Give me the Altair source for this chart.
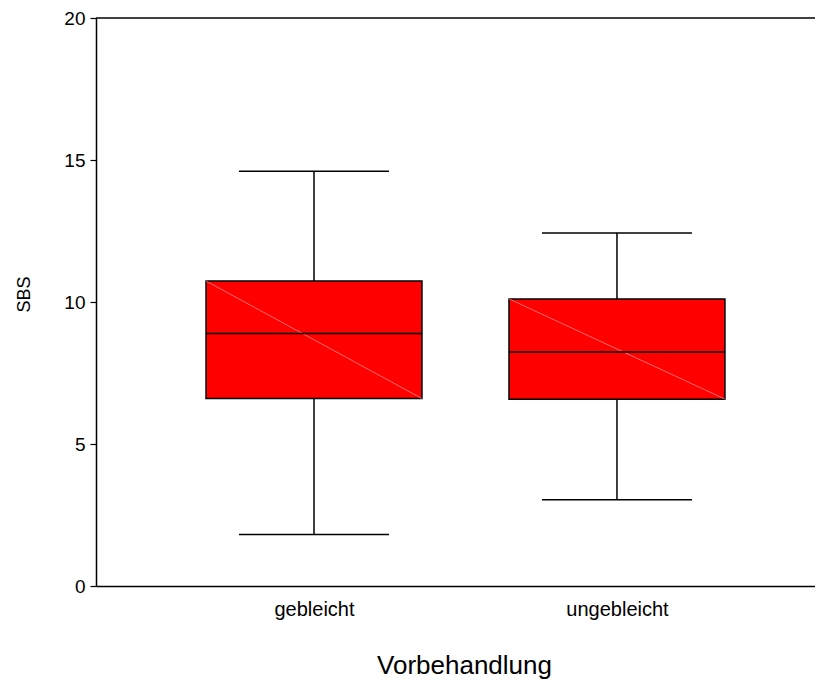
import altair as alt
import pandas as pd

groups = ["gebleicht", "ungebleicht"]
lower = [1.81, 3.04]
q1 = [6.60, 6.58]
median = [8.89, 8.24]
q3 = [10.74, 10.11]
upper = [14.60, 12.43]

BOX_HALF = 0.3564
CAP_HALF = 0.2475

pos = [i + 1 for i in range(len(groups))]
df = pd.DataFrame({
    "group": groups, "pos": pos, "lower": lower, "q1": q1,
    "median": median, "q3": q3, "upper": upper,
})
df["bl"] = df["pos"] - BOX_HALF
df["br"] = df["pos"] + BOX_HALF
df["cl"] = df["pos"] - CAP_HALF
df["cr"] = df["pos"] + CAP_HALF

FONT = "Liberation Sans"
label_expr = " : ".join(
    [f"datum.value == {p} ? '{g}'" for p, g in zip(pos[:-1], groups[:-1])]
) + f" : '{groups[-1]}'"

xscale = alt.Scale(domain=[0.2805, 2.680], nice=False, zero=False)
yscale = alt.Scale(domain=[0, 20], nice=False, zero=False)

xaxis = alt.Axis(
    values=pos, labelExpr=label_expr, tickSize=0, grid=False,
    labelFont=FONT, labelFontSize=20, labelColor="black", labelPadding=13,
    labelFlush=False, labelOverlap=False,
    domainColor="black", domainWidth=1.5,
    title="Vorbehandlung", titleFont=FONT, titleFontSize=26,
    titleFontWeight="normal", titleColor="black",
    titleX=368, titleY=87, titleBaseline="alphabetic", titleAlign="center",
)
yaxis = alt.Axis(
    values=[0, 5, 10, 15, 20], tickSize=6, tickColor="black", tickWidth=1.2,
    grid=False, labelFont=FONT, labelFontSize=19, labelColor="black",
    labelPadding=5, domainColor="black", domainWidth=1.5,
    title="SBS", titleFont=FONT, titleFontSize=18, titleFontWeight="normal",
    titleColor="black", titleX=-67, titleY=276, titleBaseline="alphabetic",
    titleAlign="center", titleAngle=270,
)

base = alt.Chart(df)

boxes = base.mark_rect(fill="#ff0000", stroke="black", strokeWidth=1.5).encode(
    x=alt.X("bl:Q", scale=xscale, axis=xaxis),
    x2="br:Q",
    y=alt.Y("q1:Q", scale=yscale, axis=yaxis),
    y2="q3:Q",
)
diag = base.mark_rule(color="#ff9a9a", strokeWidth=0.7).encode(
    x="bl:Q", x2="br:Q", y="q3:Q", y2="q1:Q"
)
med = base.mark_rule(color="black", strokeWidth=1.5).encode(
    x="bl:Q", x2="br:Q", y="median:Q"
)
whisk_up = base.mark_rule(color="black", strokeWidth=1.5).encode(
    x="pos:Q", y="q3:Q", y2="upper:Q"
)
whisk_lo = base.mark_rule(color="black", strokeWidth=1.5).encode(
    x="pos:Q", y="lower:Q", y2="q1:Q"
)
cap_up = base.mark_rule(color="black", strokeWidth=1.5).encode(
    x="cl:Q", x2="cr:Q", y="upper:Q"
)
cap_lo = base.mark_rule(color="black", strokeWidth=1.5).encode(
    x="cl:Q", x2="cr:Q", y="lower:Q"
)
top = alt.Chart(pd.DataFrame({"v": [20]})).mark_rule(
    color="black", strokeWidth=1.5
).encode(y="v:Q")

chart = alt.layer(
    boxes, diag, med, whisk_up, whisk_lo, cap_up, cap_lo, top
).properties(
    width=727, height=568,
    padding={"left": 88, "top": 10, "right": -8, "bottom": 94},
    autosize=alt.AutoSizeParams(type="none"),
    background="white",
).configure_view(stroke=None)

chart.save("out.html", embed_options={"renderer": "svg", "actions": False})
